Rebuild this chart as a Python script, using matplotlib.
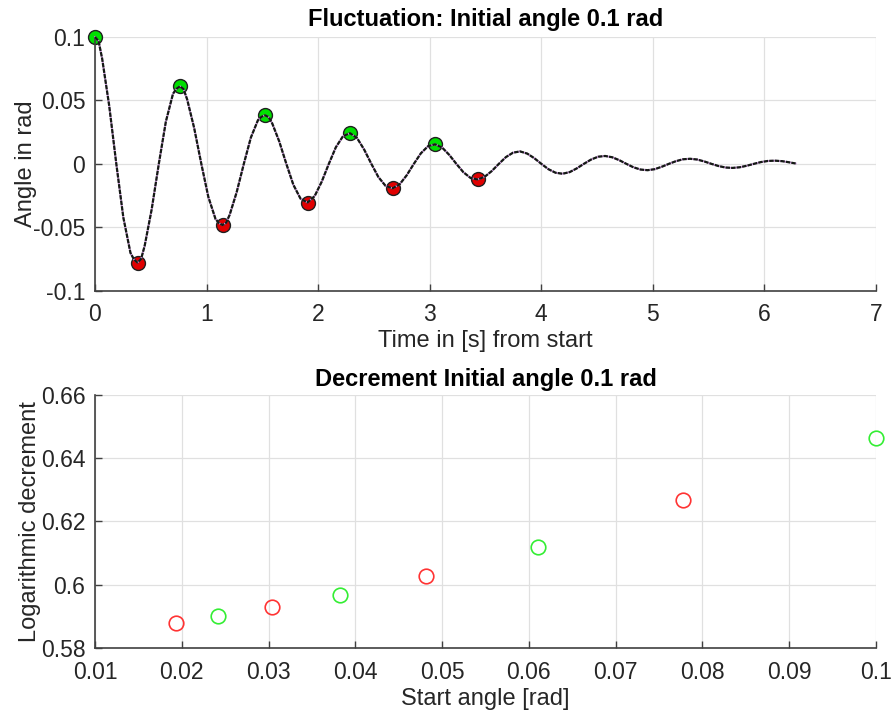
import numpy as np
import matplotlib.pyplot as plt

plt.rcParams['font.family'] = ['Liberation Sans', 'DejaVu Sans']

# ---- fluctuation curve ----
time_s = [0, 0.032, 0.064, 0.127, 0.191, 0.254, 0.318, 0.349,
          0.381, 0.413, 0.445, 0.508, 0.572, 0.635, 0.699, 0.730,
          0.762, 0.794, 0.826, 0.889, 0.953, 1.016, 1.080, 1.111,
          1.143, 1.175, 1.207, 1.270, 1.334, 1.397, 1.461, 1.492,
          1.524, 1.556, 1.588, 1.651, 1.715, 1.778, 1.842,
          1.905, 1.969, 2.032, 2.096, 2.159, 2.223,
          2.286, 2.350, 2.413, 2.477, 2.540, 2.604,
          2.667, 2.731, 2.794, 2.858, 2.921, 2.985,
          3.048, 3.112, 3.175, 3.239, 3.302, 3.366,
          3.429, 3.493, 3.556, 3.620, 3.683, 3.747,
          3.810, 3.874, 3.937, 4.001, 4.064, 4.128,
          4.191, 4.255, 4.318, 4.382, 4.445, 4.509,
          4.572, 4.636, 4.699, 4.763, 4.826, 4.890,
          4.953, 5.017, 5.080, 5.144, 5.207, 5.271,
          5.334, 5.398, 5.461, 5.525, 5.588, 5.652,
          5.715, 5.779, 5.842, 5.906, 5.969, 6.033,
          6.096, 6.160, 6.223, 6.280]
angle = [0.1, 0.0968, 0.0830, 0.0460, 0, -0.0423, -0.0702, -0.0753,
         -0.0778, -0.0750, -0.0647, -0.0359, 0, 0.0332, 0.0552, 0.0592,
         0.0611, 0.0589, 0.0508, 0.0282, 0, -0.0261, -0.0434, -0.0467,
         -0.0482, -0.0465, -0.0402, -0.0223, 0, 0.0207, 0.0345, 0.0371,
         0.0383, 0.0369, 0.0320, 0.0178, 0, -0.0165, -0.0274,
         -0.0305, -0.0254, -0.0141, 0, 0.0131, 0.0218,
         0.0242, 0.0202, 0.0112, 0, -0.0104, -0.0173,
         -0.0193, -0.0161, -0.0090, 0, 0.0083, 0.0139,
         0.0154, 0.0128, 0.0071, 0, -0.0066, -0.0111,
         -0.0123, -0.0102, -0.0057, 0, 0.0053, 0.0088,
         0.0098, 0.0081, 0.0045, 0, -0.0042, -0.0070,
         -0.0078, -0.0065, -0.0036, 0, 0.0033, 0.0056,
         0.0062, 0.0052, 0.0029, 0, -0.0027, -0.0045,
         -0.0050, -0.0042, -0.0023, 0, 0.0021, 0.0036,
         0.0040, 0.0034, 0.0019, 0, -0.0017, -0.0029,
         -0.0032, -0.0027, -0.0015, 0, 0.0014, 0.0023,
         0.0025, 0.0021, 0.0012, 0.0003]

# extrema marked on the curve
max_t = [0, 0.762, 1.524, 2.286, 3.048]
max_a = [0.1, 0.0611, 0.0383, 0.0242, 0.0154]
min_t = [0.381, 1.143, 1.905, 2.667, 3.429]
min_a = [-0.0778, -0.0482, -0.0305, -0.0193, -0.0123]

# ---- logarithmic decrement vs start angle ----
dec_max_x = [0.1, 0.0610, 0.0382, 0.0242]
dec_max_y = [0.6462, 0.6121, 0.5967, 0.5901]
dec_min_x = [0.0778, 0.0481, 0.0304, 0.0193]
dec_min_y = [0.6269, 0.6027, 0.5929, 0.5881]

axis_col = '#404040'
grid_col = '#e0e0e0'
txt_col = '#262626'
fs = 16.5

def style(ax):
    for s in ['top', 'right']:
        ax.spines[s].set_visible(False)
    for s in ['left', 'bottom']:
        ax.spines[s].set_color(axis_col)
        ax.spines[s].set_linewidth(1.2)
    ax.tick_params(direction='in', length=5, width=1, colors=axis_col,
                   labelsize=fs, labelcolor=txt_col)
    ax.tick_params(axis='x', pad=9)
    ax.tick_params(axis='y', pad=7)
    ax.grid(True, color=grid_col, linewidth=0.9)
    ax.set_axisbelow(True)

fig = plt.figure(figsize=(8.92, 7.18), dpi=100)
ax1 = fig.add_axes([0.1065, 0.5951, 0.8755, 0.3534])
ax2 = fig.add_axes([0.1065, 0.0972, 0.8755, 0.3530])

ax1.plot(max_t, max_a, 'o', ms=10, mfc='#00e000', mec='#202020', mew=1, zorder=2, clip_on=False)
ax1.plot(min_t, min_a, 'o', ms=10, mfc='#e00000', mec='#202020', mew=1, zorder=2, clip_on=False)
ax1.plot(time_s, angle, color='#c890d8', lw=1.3, zorder=3, clip_on=False)
ax1.plot(time_s, angle, color='#141a14', lw=1.6, ls=(0, (2.0, 0.5)), zorder=4, clip_on=False)
ax1.set_xlim(0, 7)
ax1.set_ylim(-0.1, 0.1)
ax1.set_xticks(range(8))
ax1.set_yticks([-0.1, -0.05, 0, 0.05, 0.1])
ax1.set_yticklabels(['-0.1', '-0.05', '0', '0.05', '0.1'])
style(ax1)
ax1.set_xlabel('Time in [s] from start', fontsize=17, color=txt_col, labelpad=3)
ax1.set_ylabel('Angle in rad', fontsize=17, color=txt_col, labelpad=-3)
ax1.set_title('Fluctuation: Initial angle 0.1 rad', fontsize=17, fontweight='bold', pad=8)

ax2.plot(dec_max_x, dec_max_y, 'o', ms=10.5, mfc='none', mec='#33ee33', mew=1.2, clip_on=False)
ax2.plot(dec_min_x, dec_min_y, 'o', ms=10.5, mfc='none', mec='#ff3333', mew=1.2, clip_on=False)
ax2.set_xlim(0.01, 0.1)
ax2.set_ylim(0.58, 0.66)
ax2.set_xticks([0.01, 0.02, 0.03, 0.04, 0.05, 0.06, 0.07, 0.08, 0.09, 0.1])
ax2.set_xticklabels(['0.01', '0.02', '0.03', '0.04', '0.05', '0.06', '0.07', '0.08', '0.09', '0.1'])
ax2.set_yticks([0.58, 0.6, 0.62, 0.64, 0.66])
ax2.set_yticklabels(['0.58', '0.6', '0.62', '0.64', '0.66'])
style(ax2)
ax2.set_xlabel('Start angle [rad]', fontsize=17, color=txt_col, labelpad=3)
ax2.set_ylabel('Logarithmic decrement', fontsize=17, color=txt_col, labelpad=0)
ax2.set_title('Decrement Initial angle 0.1 rad', fontsize=17, fontweight='bold', pad=6)

fig.savefig('out.png', dpi=100)
